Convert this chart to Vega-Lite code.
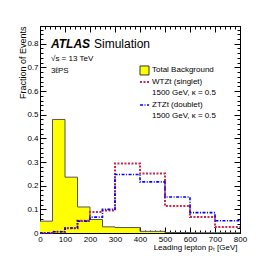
{
  "$schema": "https://vega.github.io/schema/vega-lite/v6.json",
  "width": 200,
  "height": 207,
  "autosize": {"type": "none"},
  "padding": {"left": 40, "top": 26, "right": 26, "bottom": 26},
  "config": {
    "view": {"stroke": null},
    "font": "Liberation Sans",
    "axis": {
      "grid": false,
      "domainColor": "black",
      "domainWidth": 1,
      "tickColor": "black",
      "tickWidth": 1,
      "labelColor": "black",
      "titleColor": "black",
      "labelFont": "Liberation Sans",
      "titleFont": "Liberation Sans",
      "labelFontSize": 8,
      "titleFontSize": 8,
      "titleFontWeight": "normal"
    }
  },
  "datasets": {
    "bkg": [
      {"edge": 0, "frac": 0.05},
      {"edge": 50, "frac": 0.48},
      {"edge": 100, "frac": 0.236},
      {"edge": 150, "frac": 0.11},
      {"edge": 200, "frac": 0.057},
      {"edge": 250, "frac": 0.026},
      {"edge": 300, "frac": 0.023},
      {"edge": 400, "frac": 0.007},
      {"edge": 500, "frac": 0.002},
      {"edge": 600, "frac": 0.001},
      {"edge": 700, "frac": 0.001},
      {"edge": 800, "frac": 0.001}
    ],
    "wtzt": [
      {"edge": 0, "frac": 0},
      {"edge": 50, "frac": 0.005},
      {"edge": 100, "frac": 0.02},
      {"edge": 150, "frac": 0.052},
      {"edge": 200, "frac": 0.089},
      {"edge": 250, "frac": 0.095},
      {"edge": 300, "frac": 0.294},
      {"edge": 400, "frac": 0.252},
      {"edge": 500, "frac": 0.114},
      {"edge": 600, "frac": 0.068},
      {"edge": 700, "frac": 0.025},
      {"edge": 800, "frac": 0.025}
    ],
    "ztzt": [
      {"edge": 0, "frac": 0},
      {"edge": 50, "frac": 0.005},
      {"edge": 100, "frac": 0.021},
      {"edge": 150, "frac": 0.05},
      {"edge": 200, "frac": 0.067},
      {"edge": 250, "frac": 0.1},
      {"edge": 300, "frac": 0.247},
      {"edge": 400, "frac": 0.216},
      {"edge": 500, "frac": 0.152},
      {"edge": 600, "frac": 0.086},
      {"edge": 700, "frac": 0.052},
      {"edge": 800, "frac": 0.052}
    ],
    "labels": [
      {"text": "√s = 13 TeV", "px": 44, "py": 0.728},
      {"text": "3ℓPS", "px": 44, "py": 0.677}
    ],
    "legendText": [
      {"text": "Total Background", "px": 448, "py": 0.689},
      {"text": "WTZt (singlet)", "px": 448, "py": 0.638},
      {"text": "1500 GeV, κ = 0.5", "px": 448, "py": 0.592},
      {"text": "ZTZt (doublet)", "px": 448, "py": 0.541},
      {"text": "1500 GeV, κ = 0.5", "px": 448, "py": 0.494}
    ]
  },
  "resolve": {"axis": {"x": "independent", "y": "independent"}},
  "layer": [
    {
      "data": {"name": "bkg"},
      "mark": {"type": "area", "interpolate": "step-after", "fill": "#ffff00", "fillOpacity": 1, "line": {"stroke": "#555555", "strokeWidth": 1}},
      "encoding": {
        "x": {
          "field": "edge", "type": "quantitative",
          "scale": {"domain": [0, 800], "nice": false, "zero": false},
          "axis": {
            "orient": "bottom",
            "values": [0, 100, 200, 300, 400, 500, 600, 700, 800],
            "tickSize": -6,
            "labelFlush": false,
            "labelOverlap": false,
            "labelPadding": 8,
            "title": "Leading lepton pₜ [GeV]",
            "titleX": 197,
            "titleY": 16,
            "titleAlign": "right",
            "titleBaseline": "alphabetic"
          }
        },
        "y": {
          "field": "frac", "type": "quantitative",
          "scale": {"domain": [0, 0.875], "nice": false},
          "axis": {
            "orient": "left",
            "values": [0, 0.1, 0.2, 0.3, 0.4, 0.5, 0.6, 0.7, 0.8],
            "format": "~g",
            "tickSize": -6,
            "labelFlush": false,
            "labelOverlap": false,
            "labelPadding": 8,
            "title": "Fraction of Events",
            "titleFontSize": 9,
            "titleAngle": -90,
            "titleX": -15,
            "titleY": 0,
            "titleAlign": "right",
            "titleBaseline": "alphabetic"
          }
        }
      }
    },
    {
      "data": {"name": "wtzt"},
      "mark": {"type": "line", "interpolate": "step-after", "stroke": "#c8284a", "strokeWidth": 2, "strokeDash": [2, 1.5]},
      "encoding": {
        "x": {
          "field": "edge", "type": "quantitative",
          "axis": {"orient": "top", "values": [0, 100, 200, 300, 400, 500, 600, 700, 800], "tickSize": -6, "labels": false, "title": null}
        },
        "y": {
          "field": "frac", "type": "quantitative",
          "axis": {"orient": "right", "values": [0, 0.1, 0.2, 0.3, 0.4, 0.5, 0.6, 0.7, 0.8], "tickSize": -6, "labels": false, "title": null}
        }
      }
    },
    {
      "data": {"name": "ztzt"},
      "mark": {"type": "line", "interpolate": "step-after", "stroke": "#0000ff", "strokeWidth": 1.6, "strokeDash": [3, 1.5, 1, 1.5]},
      "encoding": {
        "x": {
          "field": "edge", "type": "quantitative",
          "axis": {"orient": "bottom", "domain": false, "labels": false, "title": null, "tickSize": -3,
            "values": [0,20,40,60,80,100,120,140,160,180,200,220,240,260,280,300,320,340,360,380,400,420,440,460,480,500,520,540,560,580,600,620,640,660,680,700,720,740,760,780,800]}
        },
        "y": {
          "field": "frac", "type": "quantitative",
          "axis": {"orient": "left", "domain": false, "labels": false, "title": null, "tickSize": -3,
            "values": [0,0.02,0.04,0.06,0.08,0.1,0.12,0.14,0.16,0.18,0.2,0.22,0.24,0.26,0.28,0.3,0.32,0.34,0.36,0.38,0.4,0.42,0.44,0.46,0.48,0.5,0.52,0.54,0.56,0.58,0.6,0.62,0.64,0.66,0.68,0.7,0.72,0.74,0.76,0.78,0.8,0.82,0.84,0.86]}
        }
      }
    },
    {
      "data": {"values": [{"lo": 400, "hi": 436, "top": 0.706, "bot": 0.668}]},
      "mark": {"type": "rect", "fill": "#ffff00", "stroke": "#333333", "strokeWidth": 1},
      "encoding": {
        "x": {
          "field": "lo", "type": "quantitative",
          "axis": {"orient": "top", "domain": false, "labels": false, "title": null, "tickSize": -3,
            "values": [0,20,40,60,80,100,120,140,160,180,200,220,240,260,280,300,320,340,360,380,400,420,440,460,480,500,520,540,560,580,600,620,640,660,680,700,720,740,760,780,800]}
        },
        "x2": {"field": "hi"},
        "y": {
          "field": "top", "type": "quantitative",
          "axis": {"orient": "right", "domain": false, "labels": false, "title": null, "tickSize": -3,
            "values": [0,0.02,0.04,0.06,0.08,0.1,0.12,0.14,0.16,0.18,0.2,0.22,0.24,0.26,0.28,0.3,0.32,0.34,0.36,0.38,0.4,0.42,0.44,0.46,0.48,0.5,0.52,0.54,0.56,0.58,0.6,0.62,0.64,0.66,0.68,0.7,0.72,0.74,0.76,0.78,0.8,0.82,0.84,0.86]}
        },
        "y2": {"field": "bot"}
      }
    },
    {
      "data": {"values": [{"lo": 400, "hi": 436, "py": 0.638}]},
      "mark": {"type": "rule", "stroke": "#c8284a", "strokeWidth": 2, "strokeDash": [2, 1.5]},
      "encoding": {
        "x": {"field": "lo", "type": "quantitative", "axis": null},
        "x2": {"field": "hi"},
        "y": {"field": "py", "type": "quantitative", "axis": null}
      }
    },
    {
      "data": {"values": [{"lo": 400, "hi": 436, "py": 0.541}]},
      "mark": {"type": "rule", "stroke": "#0000ff", "strokeWidth": 1.6, "strokeDash": [3, 1.5, 1, 1.5]},
      "encoding": {
        "x": {"field": "lo", "type": "quantitative", "axis": null},
        "x2": {"field": "hi"},
        "y": {"field": "py", "type": "quantitative", "axis": null}
      }
    },
    {
      "data": {"name": "legendText"},
      "mark": {"type": "text", "align": "left", "baseline": "middle", "fontSize": 8, "font": "Liberation Sans", "color": "black"},
      "encoding": {
        "x": {"field": "px", "type": "quantitative", "axis": null},
        "y": {"field": "py", "type": "quantitative", "axis": null},
        "text": {"field": "text"}
      }
    },
    {
      "data": {"name": "labels"},
      "mark": {"type": "text", "align": "left", "baseline": "alphabetic", "fontSize": 8, "font": "Liberation Sans", "color": "black"},
      "encoding": {
        "x": {"field": "px", "type": "quantitative", "axis": null},
        "y": {"field": "py", "type": "quantitative", "axis": null},
        "text": {"field": "text"}
      }
    },
    {
      "data": {"values": [{"text": "ATLAS", "px": 44, "py": 0.783}]},
      "mark": {"type": "text", "align": "left", "baseline": "alphabetic", "fontSize": 12, "fontWeight": "bold", "fontStyle": "italic", "font": "Liberation Sans", "color": "black"},
      "encoding": {
        "x": {"field": "px", "type": "quantitative", "axis": null},
        "y": {"field": "py", "type": "quantitative", "axis": null},
        "text": {"field": "text"}
      }
    },
    {
      "data": {"values": [{"text": "Simulation", "px": 216, "py": 0.783}]},
      "mark": {"type": "text", "align": "left", "baseline": "alphabetic", "fontSize": 12, "font": "Liberation Sans", "color": "black"},
      "encoding": {
        "x": {"field": "px", "type": "quantitative", "axis": null},
        "y": {"field": "py", "type": "quantitative", "axis": null},
        "text": {"field": "text"}
      }
    }
  ]
}
